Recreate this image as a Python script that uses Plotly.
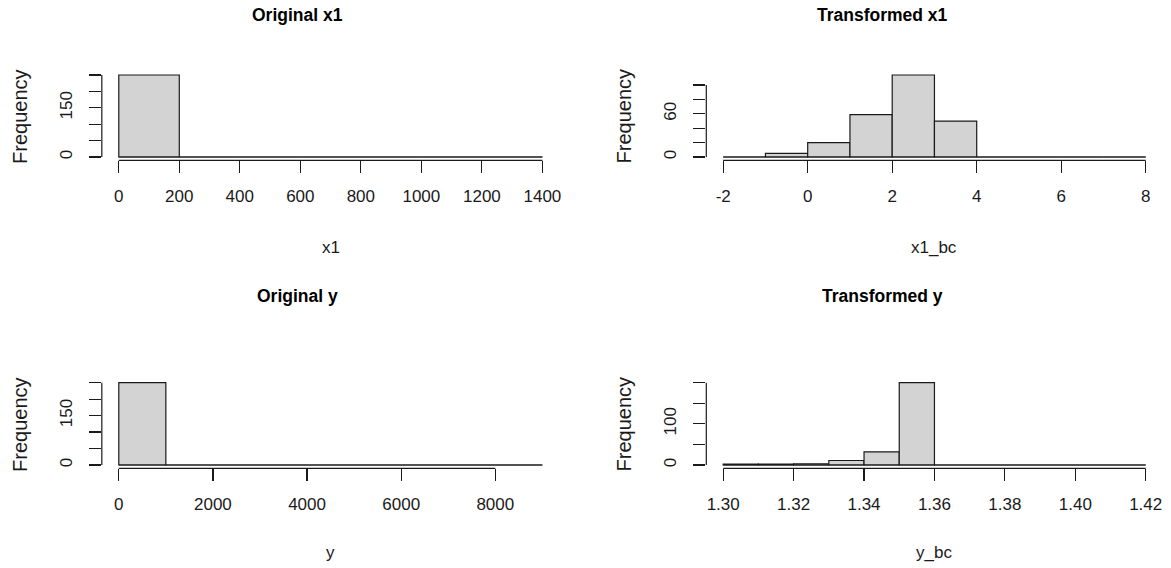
import plotly.graph_objects as go

# ---------------- data ----------------
x1_breaks = [0, 200, 400, 600, 800, 1000, 1200, 1400]
x1_counts = [250, 0, 0, 0, 0, 0, 0]

x1bc_breaks = [-2, -1, 0, 1, 2, 3, 4, 5, 6, 7, 8]
x1bc_counts = [0, 5, 20, 59, 114, 50, 0, 0, 0, 0]

y_breaks = [0, 1000, 2000, 3000, 4000, 5000, 6000, 7000, 8000, 9000]
y_counts = [250, 0, 0, 0, 0, 0, 0, 0, 0]

ybc_breaks = [1.30, 1.31, 1.32, 1.33, 1.34, 1.35, 1.36, 1.37, 1.38, 1.39, 1.40, 1.41, 1.42]
ybc_counts = [2, 2, 3, 11, 32, 200, 0, 0, 0, 0, 0, 0]

x1_xticks = [0, 200, 400, 600, 800, 1000, 1200, 1400]
x1_xlabels = ["0", "200", "400", "600", "800", "1000", "1200", "1400"]
x1_yticks = [0, 50, 100, 150, 200, 250]
x1_ylabels = ["0", "", "", "150", "", ""]

x1bc_xticks = [-2, 0, 2, 4, 6, 8]
x1bc_xlabels = ["-2", "0", "2", "4", "6", "8"]
x1bc_yticks = [0, 20, 40, 60, 80, 100]
x1bc_ylabels = ["0", "", "", "60", "", ""]

y_xticks = [0, 2000, 4000, 6000, 8000]
y_xlabels = ["0", "2000", "4000", "6000", "8000"]
y_yticks = [0, 50, 100, 150, 200, 250]
y_ylabels = ["0", "", "", "150", "", ""]

ybc_xticks = [1.30, 1.32, 1.34, 1.36, 1.38, 1.40, 1.42]
ybc_xlabels = ["1.30", "1.32", "1.34", "1.36", "1.38", "1.40", "1.42"]
ybc_yticks = [0, 50, 100, 150, 200]
ybc_ylabels = ["0", "", "100", "", ""]

titles = ["Original x1", "Transformed x1", "Original y", "Transformed y"]
xlabels = ["x1", "x1_bc", "y", "y_bc"]
ylabel = "Frequency"

# ---------------- layout / styling ----------------
W, H = 1171, 568
FONT = "Arial, Liberation Sans, sans-serif"
INK = "#1a1a1a"
FILL = "#d3d3d3"

def px_x(p):
    return p / W

def px_y(p):
    return 1 - p / H

x_domains = [[px_x(102), px_x(560.3)], [px_x(707.5), px_x(1164.6)]]
y_domains = [[px_y(160.3), px_y(71.7)], [px_y(468.3), px_y(379.4)]]

panels = [
    (x1_breaks, x1_counts, x1_xticks, x1_xlabels, x1_yticks, x1_ylabels),
    (x1bc_breaks, x1bc_counts, x1bc_xticks, x1bc_xlabels, x1bc_yticks, x1bc_ylabels),
    (y_breaks, y_counts, y_xticks, y_xlabels, y_yticks, y_ylabels),
    (ybc_breaks, ybc_counts, ybc_xticks, ybc_xlabels, ybc_yticks, ybc_ylabels),
]

fig = go.Figure()
layout = dict(
    width=W, height=H,
    margin=dict(l=0, r=0, t=0, b=0),
    paper_bgcolor="white", plot_bgcolor="white",
    showlegend=False,
    bargap=0,
    font=dict(family=FONT, color=INK),
)
shapes = []
annotations = []

title_cx = [298, 884, 298, 884]
title_cy = [15, 15, 296, 296]
xlab_cy = [247, 247, 552, 552]
freq_cx = [20, 625.5, 20, 625.5]
freq_cy = [116, 116, 424, 424]

for i, (brk, cnt, xt, xl, yt, yl) in enumerate(panels):
    col = i % 2
    row = i // 2
    sfx = "" if i == 0 else str(i + 1)
    xa, ya = "x" + sfx, "y" + sfx
    centers = [(brk[k] + brk[k + 1]) / 2 for k in range(len(cnt))]
    widths = [brk[k + 1] - brk[k] for k in range(len(cnt))]
    fig.add_trace(go.Bar(
        x=centers, y=cnt, width=widths,
        marker=dict(color=FILL, line=dict(color=INK, width=1.2)),
        xaxis=xa, yaxis=ya, hoverinfo="skip",
    ))
    # baseline along all breaks (R draws zero-height bins as lines)
    fig.add_trace(go.Scatter(
        x=[brk[0], brk[-1]], y=[0, 0], mode="lines",
        line=dict(color=INK, width=1.2),
        xaxis=xa, yaxis=ya, hoverinfo="skip",
    ))
    span = brk[-1] - brk[0]
    ymax = max(cnt)
    layout["xaxis" + sfx] = dict(
        domain=x_domains[col], anchor=ya,
        range=[brk[0] - 0.04 * span, brk[-1] + 0.04 * span],
        tickmode="array", tickvals=xt, ticktext=xl,
        ticks="outside", ticklen=12, tickwidth=1.2, tickcolor=INK,
        showline=False, showgrid=False, zeroline=False,
        tickfont=dict(size=17, family=FONT, color=INK),
        ticklabelstandoff=8,
        fixedrange=True,
    )
    layout["yaxis" + sfx] = dict(
        domain=y_domains[row], anchor=xa,
        range=[-0.04 * ymax, ymax * 1.04],
        tickmode="array", tickvals=yt, ticktext=yl,
        ticks="outside", ticklen=12, tickwidth=1.2, tickcolor=INK,
        showline=False, showgrid=False, zeroline=False,
        tickangle=-90,
        tickfont=dict(size=17, family=FONT, color=INK),
        ticklabelstandoff=10,
        fixedrange=True,
    )
    # axis lines spanning first..last tick (R style)
    shapes.append(dict(type="line", xref=xa, yref=ya + " domain",
                       x0=xt[0], x1=xt[-1], y0=0, y1=0,
                       line=dict(color=INK, width=1.2)))
    shapes.append(dict(type="line", xref=xa + " domain", yref=ya,
                       x0=0, x1=0, y0=yt[0], y1=yt[-1],
                       line=dict(color=INK, width=1.2)))
    # title
    annotations.append(dict(text="<b>" + titles[i] + "</b>", xref="paper", yref="paper",
                            x=px_x(title_cx[i]), y=px_y(title_cy[i]),
                            xanchor="center", yanchor="middle", showarrow=False,
                            font=dict(size=17.5, family=FONT, color="#000")))
    # x label
    xc = (x_domains[col][0] + x_domains[col][1]) / 2
    annotations.append(dict(text=xlabels[i], xref="paper", yref="paper",
                            x=xc, y=px_y(xlab_cy[i]),
                            xanchor="center", yanchor="middle", showarrow=False,
                            font=dict(size=17, family=FONT, color=INK)))
    # y label
    annotations.append(dict(text=ylabel, xref="paper", yref="paper",
                            x=px_x(freq_cx[i]), y=px_y(freq_cy[i]),
                            xanchor="center", yanchor="middle", showarrow=False, textangle=-90,
                            font=dict(size=20, family=FONT, color=INK)))

layout["shapes"] = shapes
layout["annotations"] = annotations
fig.update_layout(**layout)
fig.write_html("out.html",
               config={"displayModeBar": False, "staticPlot": True},
               post_script="document.body.style.margin='0';document.body.style.overflow='hidden';")
